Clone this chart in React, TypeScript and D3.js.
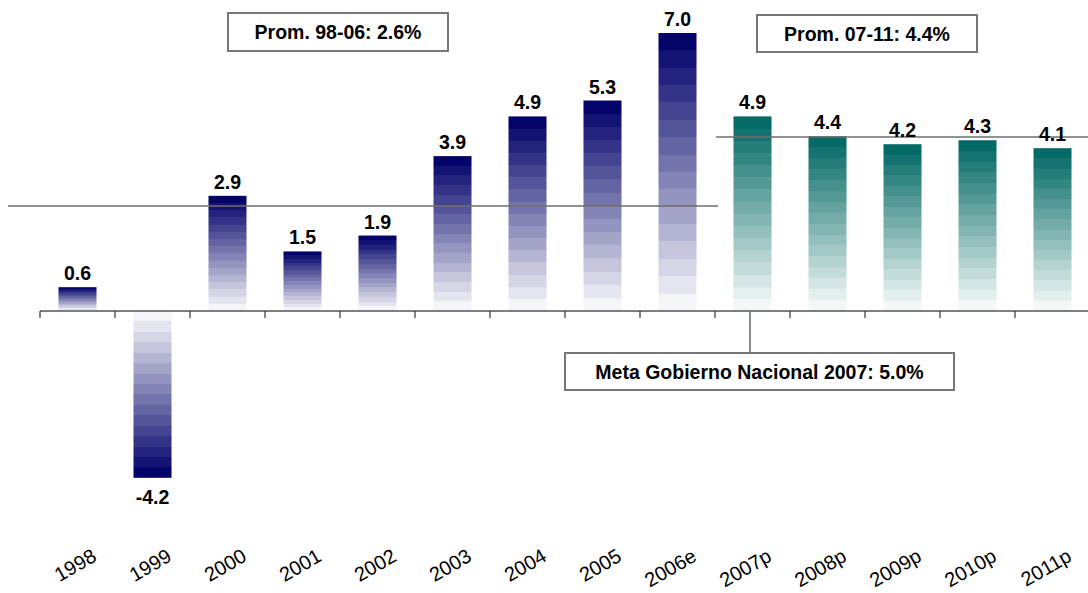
import React from "react";
import * as d3 from "d3";

const categories = ["1998", "1999", "2000", "2001", "2002", "2003", "2004", "2005", "2006e", "2007p", "2008p", "2009p", "2010p", "2011p"];
const values = [0.6, -4.2, 2.9, 1.5, 1.9, 3.9, 4.9, 5.3, 7.0, 4.9, 4.4, 4.2, 4.3, 4.1];
const groups = ["hist", "hist", "hist", "hist", "hist", "hist", "hist", "hist", "hist", "proj", "proj", "proj", "proj", "proj"];
const boxLabels = ["Prom. 98-06: 2.6%", "Prom. 07-11: 4.4%", "Meta Gobierno Nacional 2007: 5.0%"];

const W = 1088;
const H = 593;
const FONT = "'Liberation Sans', Arial, Helvetica, sans-serif";
const BANDS = 16;

const palettes: Record<string, [string, string]> = {
  hist: ["#03036a", "#f5f5f9"],
  proj: ["#046a66", "#f3f8f7"],
};

function StepGradient({ id, dark, light, reverse }: { id: string; dark: string; light: string; reverse: boolean }) {
  const interp = d3.interpolateRgb(dark, light);
  const stops: React.ReactNode[] = [];
  for (let i = 0; i < BANDS; i++) {
    const t = i / (BANDS - 1);
    const c = interp(reverse ? 1 - t : t);
    stops.push(<stop key={`a${i}`} offset={i / BANDS} stopColor={c} />);
    stops.push(<stop key={`b${i}`} offset={(i + 1) / BANDS} stopColor={c} />);
  }
  return (
    <linearGradient id={id} x1="0" y1="0" x2="0" y2="1">
      {stops}
    </linearGradient>
  );
}

export default function App() {
  const x = d3.scaleBand<string>().domain(categories).range([40, 1090]).paddingInner(0.493).paddingOuter(0.2465);
  const y = d3.scaleLinear().domain([0, 7]).range([311, 33]);
  const y0 = y(0);

  const histVals = values.filter((_, i) => groups[i] === "hist");
  const projVals = values.filter((_, i) => groups[i] === "proj");
  const avgHist = d3.mean(histVals) as number;
  const avgProj = d3.mean(projVals) as number;

  const split = (x("2007p") as number) - (x.step() - x.bandwidth()) / 2;
  const edges = d3.range(categories.length + 1).map((i) => 40 + i * x.step());
  const lineColor = "#6e6e6e";

  const boxes = [
    { label: boxLabels[0], x0: 228, x1: 448, y0: 13, y1: 51 },
    { label: boxLabels[1], x0: 757, x1: 977, y0: 15, y1: 52 },
    { label: boxLabels[2], x0: 565, x1: 954, y0: 353, y1: 390 },
  ];

  return (
    <div style={{ position: "absolute", left: 0, top: 0 }}>
      <svg width={W} height={H} style={{ display: "block", background: "#fff" }}>
        <defs>
          {categories.map((c, i) => (
            <StepGradient
              key={c}
              id={`g${i}`}
              dark={palettes[groups[i]][0]}
              light={palettes[groups[i]][1]}
              reverse={values[i] < 0}
            />
          ))}
        </defs>

        {/* bars */}
        {categories.map((c, i) => {
          const v = values[i];
          const top = Math.min(y(v), y0);
          const h = Math.abs(y(v) - y0);
          return <rect key={c} x={x(c)} y={top} width={x.bandwidth()} height={h} fill={`url(#g${i})`} />;
        })}

        {/* average lines */}
        <line x1={8} x2={split + 3} y1={y(avgHist)} y2={y(avgHist)} stroke={lineColor} strokeWidth={1.6} />
        <line x1={split + 1} x2={W} y1={y(avgProj)} y2={y(avgProj)} stroke={lineColor} strokeWidth={1.6} />

        {/* axis */}
        <line x1={40} x2={W} y1={y0} y2={y0} stroke="#555" strokeWidth={1.6} />
        {edges.map((ex, i) => (
          <line key={i} x1={ex} x2={ex} y1={y0} y2={y0 + 7} stroke="#333" strokeWidth={1.2} />
        ))}
        <line x1={750} x2={750} y1={y0} y2={353} stroke={lineColor} strokeWidth={1.6} />

        {/* value labels */}
        {categories.map((c, i) => {
          const v = values[i];
          const cx = (x(c) as number) + x.bandwidth() / 2;
          const ty = v >= 0 ? y(v) - 7 : y(v) + 26;
          return (
            <text key={c} x={cx} y={ty} textAnchor="middle" fontFamily={FONT} fontWeight="bold" fontSize={19.5} fill="#000">
              {v.toFixed(1)}
            </text>
          );
        })}

        {/* tick labels */}
        {categories.map((c) => {
          const ax = (x(c) as number) + x.bandwidth() / 2 + 20.5;
          const ay = 560;
          return (
            <text
              key={c}
              x={ax}
              y={ay}
              textAnchor="end"
              transform={`rotate(-30 ${ax} ${ay})`}
              fontFamily={FONT}
              fontSize={20}
              fill="#000"
            >
              {c}
            </text>
          );
        })}

        {/* annotation boxes */}
        {boxes.map((b, i) => (
          <g key={i}>
            <rect x={b.x0} y={b.y0} width={b.x1 - b.x0} height={b.y1 - b.y0} fill="#fff" stroke="#777" strokeWidth={2} />
            <text
              x={(b.x0 + b.x1) / 2}
              y={(b.y0 + b.y1) / 2 + 7}
              textAnchor="middle"
              fontFamily={FONT}
              fontWeight="bold"
              fontSize={19.5}
              fill="#000"
            >
              {b.label}
            </text>
          </g>
        ))}
      </svg>
    </div>
  );
}
